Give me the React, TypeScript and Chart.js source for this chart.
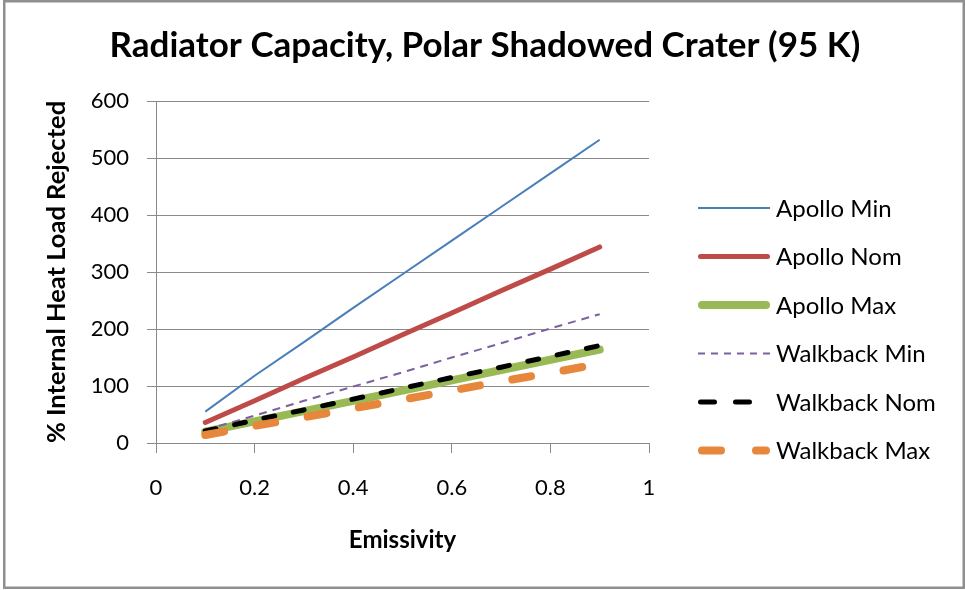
import React, { useEffect, useRef } from "react";
import { Chart, registerables } from "chart.js";

Chart.register(...registerables);

// Emissivity sample points and rejected heat load (% of internal load)
const emissivity = [0.1, 0.2, 0.3, 0.4, 0.5, 0.6, 0.7, 0.8, 0.9];
const apolloMin = [55, 118, 177, 237, 296, 355, 414, 473, 532];
const apolloNom = [36, 74, 113, 151, 190, 228, 267, 305, 344];
const apolloMax = [20, 38, 56, 74, 92, 110, 128, 146, 164];
const walkbackMin = [23, 48, 74, 99, 124, 150, 175, 201, 226];
const walkbackNom = [21, 40, 58, 77, 96, 115, 133, 152, 171];
const walkbackMax = [14, 30, 45, 61, 76, 92, 108, 123, 139];

const seriesNames = [
  "Apollo Min",
  "Apollo Nom",
  "Apollo Max",
  "Walkback Min",
  "Walkback Nom",
  "Walkback Max",
];
const seriesValues = [apolloMin, apolloNom, apolloMax, walkbackMin, walkbackNom, walkbackMax];

const titleText = "Radiator Capacity, Polar Shadowed Crater (95 K)";
const xTitle = "Emissivity";
const yTitle = "% Internal Heat Load Rejected";

const FONT = "Lato, 'Open Sans', 'DejaVu Sans', sans-serif";
const GRID = "#8a8a8a";

const styles = [
  { color: "#4A7EBB", width: 2, dash: [] as number[], legendDash: [] as number[], cap: "butt" },
  { color: "#BE4B48", width: 5, dash: [] as number[], legendDash: [] as number[], cap: "round" },
  { color: "#98B954", width: 8, dash: [] as number[], legendDash: [] as number[], cap: "round" },
  { color: "#7D60A0", width: 2, dash: [8, 6], legendDash: [7, 6], cap: "butt" },
  { color: "#000000", width: 5, dash: [11, 19], legendDash: [14, 21], cap: "round" },
  { color: "#E6873B", width: 8, dash: [19, 33], legendDash: [19, 35], cap: "round" },
];

const fmtTick = (v: number) => String(Number(Number(v).toFixed(1)));

const frameAndText = {
  id: "frameAndText",
  beforeDraw(chart: any) {
    const ctx = chart.ctx;
    ctx.save();
    ctx.fillStyle = "#ffffff";
    ctx.fillRect(0, 0, chart.width, chart.height);
    ctx.restore();
  },
  afterDraw(chart: any) {
    const ctx = chart.ctx;
    ctx.save();
    // outer frame
    ctx.strokeStyle = "#8f8f8f";
    ctx.lineWidth = 2.5;
    ctx.strokeRect(4.25, 1.25, 959.5, 586.5);

    // chart title
    ctx.fillStyle = "#000";
    ctx.font = `bold 35px ${FONT}`;
    ctx.textAlign = "center";
    ctx.textBaseline = "alphabetic";
    ctx.fillText(titleText, 485, 57);

    // legend
    const x0 = 698;
    const x1 = 770;
    const rowY = [208, 256.5, 305, 353.5, 402, 450.5];
    chart.data.datasets.forEach((ds: any, i: number) => {
      const y = rowY[i];
      const inset = ds.borderCapStyle === "round" ? ds.borderWidth / 2 : 0;
      ctx.save();
      ctx.strokeStyle = ds.borderColor;
      ctx.lineWidth = ds.borderWidth;
      ctx.lineCap = ds.borderCapStyle;
      ctx.setLineDash(styles[i].legendDash);
      ctx.beginPath();
      ctx.moveTo(x0 + inset, y);
      ctx.lineTo(x1 - inset, y);
      ctx.stroke();
      ctx.restore();
      ctx.fillStyle = "#000";
      ctx.font = `24px ${FONT}`;
      ctx.textAlign = "left";
      ctx.textBaseline = "middle";
      ctx.fillText(ds.label, 776, y + 1);
    });
    ctx.restore();
  },
};

export default function App() {
  const canvasRef = useRef<HTMLCanvasElement | null>(null);

  useEffect(() => {
    const canvas = canvasRef.current;
    if (!canvas) return;
    const datasets = seriesNames.map((name, i) => ({
      label: name,
      data: emissivity.map((x, j) => ({ x, y: seriesValues[i][j] })),
      borderColor: styles[i].color,
      backgroundColor: styles[i].color,
      borderWidth: styles[i].width,
      borderDash: styles[i].dash,
      borderCapStyle: styles[i].cap,
      borderJoinStyle: "round",
      pointRadius: 0,
      tension: 0,
      fill: false,
      order: seriesNames.length - i,
    }));

    const chart = new Chart(canvas, {
      type: "line",
      data: { datasets } as any,
      plugins: [frameAndText],
      options: {
        animation: false,
        responsive: false,
        events: [],
        layout: { padding: { top: 101, right: 316, left: 0, bottom: 0 } },
        plugins: {
          legend: { display: false },
          title: { display: false },
          tooltip: { enabled: false },
        },
        scales: {
          x: {
            type: "linear",
            min: 0,
            max: 1,
            ticks: {
              stepSize: 0.2,
              color: "#000",
              font: { family: FONT, size: 22 },
              padding: 22,
              maxRotation: 0,
              callback: (v: any) => fmtTick(v),
            },
            grid: { drawOnChartArea: false, drawTicks: true, tickLength: 10, color: GRID, lineWidth: 1 },
            border: { color: GRID, width: 1 },
            title: {
              display: true,
              text: xTitle,
              color: "#000",
              font: { family: FONT, size: 24, weight: "bold" },
              padding: { top: 0, bottom: 35 },
            },
            afterFit: (s: any) => {
              s.height = 147;
            },
          },
          y: {
            type: "linear",
            min: 0,
            max: 600,
            ticks: {
              stepSize: 100,
              color: "#000",
              font: { family: FONT, size: 22 },
              padding: 18,
              callback: (v: any) => fmtTick(v),
            },
            grid: { drawTicks: true, tickLength: 9, color: GRID, lineWidth: 1 },
            border: { color: GRID, width: 1 },
            title: {
              display: true,
              text: yTitle,
              color: "#000",
              font: { family: FONT, size: 25.5, weight: "bold" },
              padding: { top: 41, bottom: 0 },
            },
            afterFit: (s: any) => {
              s.width = 156;
            },
          },
        },
      } as any,
    });
    return () => chart.destroy();
  }, []);

  return (
    <div style={{ position: "fixed", left: 0, top: 0, width: 965, height: 590, background: "#fff" }}>
      <canvas ref={canvasRef} width={965} height={590} style={{ display: "block", width: 965, height: 590 }} />
    </div>
  );
}
